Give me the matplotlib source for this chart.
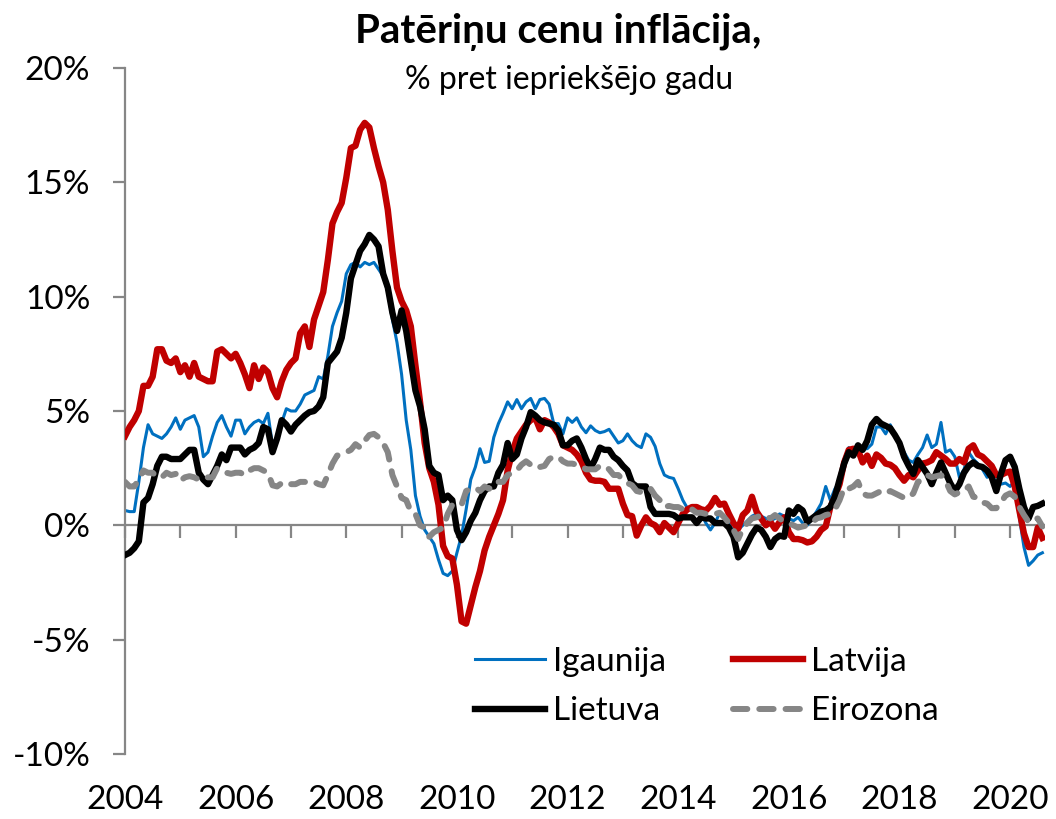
import numpy as np
import matplotlib
matplotlib.use("Agg")
import matplotlib.pyplot as plt

plt.rcParams['font.family'] = ['Lato', 'DejaVu Sans']

# monthly y/y HICP, Jan 2004 .. Aug 2020
igaunija = [
    0.65, 0.6, 0.6, 1.9, 3.4, 4.4, 4.0, 3.9, 3.8, 4.0, 4.3, 4.7,        # 2004
    4.2, 4.6, 4.7, 4.8, 4.3, 3.0, 3.2, 3.9, 4.5, 4.8, 4.3, 3.9,         # 2005
    4.6, 4.6, 4.0, 4.3, 4.5, 4.6, 4.45, 4.9, 3.5, 3.9, 4.5, 5.1,        # 2006
    5.0, 5.0, 5.3, 5.7, 5.8, 5.9, 6.5, 6.4, 7.4, 8.7, 9.3, 9.8,         # 2007
    11.0, 11.4, 11.5, 11.3, 11.5, 11.4, 11.5, 11.2, 10.9, 10.2, 9.0, 8.0,  # 2008
    6.6, 4.6, 3.3, 1.3, 0.4, -0.2, -0.5, -0.8, -1.5, -2.1, -2.2, -2.0,  # 2009
    -1.2, -0.45, 0.7, 2.0, 2.55, 3.35, 2.75, 2.8, 3.85, 4.45, 4.9, 5.4,  # 2010
    5.1, 5.5, 5.1, 5.4, 5.55, 5.1, 5.5, 5.55, 5.3, 4.45, 4.45, 4.0,     # 2011
    4.7, 4.5, 4.7, 4.3, 4.05, 4.35, 4.15, 4.05, 4.1, 4.2, 3.9, 3.6,     # 2012
    3.7, 4.0, 3.7, 3.5, 3.4, 4.0, 3.85, 3.45, 2.7, 2.2, 2.1, 2.05,      # 2013
    1.6, 1.1, 0.75, 0.65, 0.55, 0.5, 0.1, -0.2, 0.1, 0.55, 0.3, 0.1,    # 2014
    -0.3, -0.2, 0.0, 0.2, 0.4, 0.5, 0.4, 0.3, 0.2, 0.3, 0.5, 0.4,       # 2015
    0.3, 0.2, 0.35, 0.1, 0.0, 0.3, 0.6, 0.95, 1.7, 1.1, 1.6, 1.9,       # 2016
    2.9, 3.4, 3.1, 3.2, 3.35, 3.35, 3.55, 4.3, 4.3, 4.0, 4.4, 3.95,     # 2017
    3.6, 3.2, 2.85, 2.75, 3.1, 3.4, 3.95, 3.4, 3.55, 4.5, 3.2, 3.3,     # 2018
    3.0, 2.1, 2.45, 3.2, 2.9, 2.7, 2.45, 2.1, 2.3, 1.8, 1.8, 1.85,      # 2019
    1.7, 1.95, 0.35, -0.95, -1.75, -1.55, -1.3, -1.2,                   # 2020
]
latvija = [
    3.9, 4.3, 4.6, 5.0, 6.1, 6.1, 6.5, 7.7, 7.7, 7.2, 7.1, 7.3,
    6.7, 7.0, 6.5, 7.1, 6.5, 6.4, 6.3, 6.3, 7.6, 7.7, 7.5, 7.3,
    7.5, 7.1, 6.6, 6.0, 7.0, 6.4, 6.9, 6.7, 6.0, 5.6, 6.3, 6.8,
    7.1, 7.3, 8.4, 8.7, 7.8, 9.0, 9.6, 10.2, 11.6, 13.2, 13.7, 14.1,
    15.2, 16.5, 16.6, 17.3, 17.6, 17.4, 16.5, 15.7, 15.0, 13.8, 12.0, 10.4,
    9.8, 9.4, 8.7, 7.0, 5.4, 3.6, 2.5, 1.9, 0.9, -0.9, -1.35, -1.45,
    -2.6, -4.2, -4.3, -3.5, -2.7, -2.0, -1.1, -0.5, 0.0, 0.5, 1.1, 2.4,
    3.2, 3.8, 4.1, 4.4, 4.6, 4.7, 4.2, 4.6, 4.5, 4.3, 4.0, 3.5,
    3.4, 3.3, 3.1, 2.8, 2.3, 2.0, 1.95, 1.95, 1.9, 1.6, 1.6, 1.6,
    0.95, 0.45, 0.4, -0.45, 0.0, 0.35, 0.1, 0.0, -0.3, 0.1, -0.1, -0.3,
    0.1, 0.5, 0.7, 0.8, 0.8, 0.7, 0.65, 0.85, 1.2, 0.9, 0.95, 0.5,
    0.1, -0.15, 0.45, 0.65, 1.25, 0.6, 0.3, 0.0, 0.15, -0.15, 0.15, 0.35,
    -0.3, -0.6, -0.6, -0.65, -0.75, -0.7, -0.5, -0.2, -0.05, 0.8, 1.25, 1.8,
    2.75, 3.3, 3.35, 3.3, 2.75, 3.05, 2.6, 3.1, 2.95, 2.7, 2.65, 2.5,
    2.2, 1.95, 2.2, 2.1, 2.4, 2.7, 2.75, 2.85, 3.2, 3.05, 2.9, 2.7,
    2.7, 2.9, 2.75, 3.35, 3.5, 3.1, 3.0, 2.8, 2.6, 2.2, 2.2, 2.3,
    2.35, 1.7, 0.65, -0.35, -0.95, -0.95, -0.1, -0.55,
]
lietuva = [
    -1.3, -1.2, -1.0, -0.7, 1.0, 1.2, 1.8, 2.6, 3.0, 3.0, 2.9, 2.9,
    2.9, 3.1, 3.3, 3.3, 2.3, 2.0, 1.8, 2.2, 2.6, 3.1, 2.85, 3.4,
    3.4, 3.4, 3.1, 3.3, 3.4, 3.6, 4.3, 4.2, 3.2, 3.8, 4.6, 4.4,
    4.1, 4.4, 4.6, 4.8, 4.95, 5.0, 5.2, 5.6, 7.1, 7.35, 7.6, 8.2,
    9.3, 10.8, 11.4, 12.0, 12.3, 12.7, 12.5, 12.2, 11.0, 10.4, 9.3, 8.5,
    9.4, 8.5, 7.2, 5.9, 5.2, 4.2, 2.6, 2.3, 2.2, 1.1, 1.3, 1.1,
    -0.2, -0.65, -0.3, 0.2, 0.55, 1.1, 1.5, 1.7, 1.7, 2.3, 2.65, 3.6,
    2.9, 3.1, 3.8, 4.3, 4.95, 4.8, 4.6, 4.5, 4.45, 4.4, 4.15, 3.5,
    3.5, 3.7, 3.8, 3.4, 2.9, 2.5, 2.9, 3.4, 3.3, 3.3, 3.0, 2.85,
    2.6, 2.4, 1.85, 1.7, 1.7, 1.7, 0.8, 0.5, 0.5, 0.5, 0.5, 0.45,
    0.3, 0.35, 0.35, 0.35, 0.1, 0.35, 0.3, 0.3, 0.1, 0.1, 0.1, -0.1,
    -0.5, -1.4, -1.2, -0.8, -0.4, -0.1, -0.2, -0.5, -0.95, -0.6, -0.45, -0.5,
    0.65, 0.5, 0.8, 0.65, 0.15, 0.3, 0.45, 0.6, 0.65, 0.8, 1.25, 2.0,
    2.7, 3.2, 3.05, 3.5, 3.3, 3.7, 4.4, 4.65, 4.45, 4.35, 4.25, 3.95,
    3.6, 3.0, 2.6, 2.25, 2.85, 2.55, 2.25, 1.8, 2.3, 2.75, 2.3, 1.85,
    1.5, 1.8, 2.3, 2.6, 2.75, 2.6, 2.55, 2.4, 2.1, 1.5, 2.25, 2.85,
    3.0, 2.55, 1.6, 0.8, 0.3, 0.8, 0.85, 0.95,
]
eirozona = [
    1.9, 1.7, 1.7, 2.0, 2.4, 2.3, 2.3, 2.1, 2.1, 2.3, 2.2, 2.25,
    1.95, 2.1, 2.15, 2.1, 2.0, 2.0, 2.1, 2.1, 2.5, 2.4, 2.3, 2.25,
    2.3, 2.3, 2.2, 2.4, 2.5, 2.5, 2.4, 2.3, 1.75, 1.7, 1.85, 1.9,
    1.8, 1.8, 1.9, 1.9, 1.85, 1.9, 1.8, 1.75, 2.2, 2.7, 3.05, 3.1,
    3.2, 3.3, 3.55, 3.4, 3.7, 3.95, 4.0, 3.85, 3.6, 3.2, 2.2, 1.7,
    1.2, 1.1, 0.6, 0.5, 0.0, -0.1, -0.5, -0.3, -0.2, -0.1, 0.5, 0.9,
    0.95, 0.9, 1.5, 1.6, 1.65, 1.5, 1.7, 1.6, 1.85, 1.9, 1.9, 2.2,
    2.3, 2.4, 2.65, 2.8, 2.65, 2.7, 2.55, 2.6, 2.9, 3.0, 3.0, 2.8,
    2.7, 2.7, 2.65, 2.6, 2.45, 2.45, 2.45, 2.6, 2.6, 2.45, 2.2, 2.2,
    2.0, 1.85, 1.75, 1.5, 1.45, 1.6, 1.6, 1.3, 1.1, 0.8, 0.85, 0.8,
    0.8, 0.7, 0.6, 0.7, 0.55, 0.55, 0.5, 0.45, 0.5, 0.55, 0.35, 0.1,
    -0.2, -0.6, -0.15, 0.1, 0.3, 0.35, 0.45, 0.4, 0.3, 0.45, 0.3, 0.15,
    0.1, 0.0, -0.1, -0.05, 0.0, 0.1, 0.3, 0.35, 0.45, 0.5, 0.7, 1.1,
    1.65, 1.6, 1.7, 1.9, 1.4, 1.3, 1.3, 1.4, 1.5, 1.4, 1.5, 1.4,
    1.3, 1.2, 1.2, 1.4, 1.9, 2.0, 2.2, 2.1, 2.15, 2.2, 1.95, 1.5,
    1.35, 1.45, 1.5, 1.7, 1.25, 1.2, 1.0, 0.95, 0.75, 0.75, 1.0, 1.3,
    1.4, 1.25, 0.8, 0.45, 0.15, 0.3, 0.3, -0.05,
]

gadi = list(range(2004, 2021))
gadu_etiketes = [str(g) for g in range(2004, 2021, 2)]
y_ticks = [20, 15, 10, 5, 0, -5, -10]
y_etiketes = ['20%', '15%', '10%', '5%', '0%', '-5%', '-10%']

x = 2004 + np.arange(len(latvija)) / 12.0
gray = '#868686'

fig = plt.figure(figsize=(10.56, 8.19), dpi=100)
ax = fig.add_axes([125/1056, 1 - 754/819, (1044.7 - 125)/1056, (754 - 68)/819])

ax.axhline(0, color=gray, lw=1.6, zorder=1)
ax.plot(x, igaunija, color='#0070C0', lw=2.2, label='Igaunija', zorder=2)
ax.plot(x, latvija, color='#C00000', lw=4.6, label='Latvija', zorder=3,
        solid_joinstyle='round')
ax.plot(x, lietuva, color='black', lw=4.6, label='Lietuva', zorder=4,
        solid_joinstyle='round')
ax.plot(x, eirozona, color=gray, lw=4.3, ls=(0, (2.4, 2.0)), label='Eirozona',
        zorder=5, dash_capstyle='round')

ax.set_xlim(2004, 2004 + 199.5 / 12)
ax.set_ylim(-10, 20)

for s in ['top', 'right', 'bottom']:
    ax.spines[s].set_visible(False)
ax.spines['left'].set_color(gray)
ax.spines['left'].set_linewidth(1.6)

ax.set_yticks(y_ticks)
ax.set_yticklabels(y_etiketes, fontsize=24)
ax.tick_params(axis='y', direction='out', length=9, width=1.6, color=gray, pad=16)

ax.set_xticks([int(g) for g in gadu_etiketes])
ax.set_xticklabels(gadu_etiketes, fontsize=24)
ax.tick_params(axis='x', length=0, pad=22)

# year ticks on the zero line
sec = ax.secondary_xaxis(1/3)
sec.set_xticks(gadi)
sec.tick_params(axis='x', direction='out', length=9, width=1.6, color=gray,
                labelbottom=False)
sec.spines['bottom'].set_visible(False)

h, l = ax.get_legend_handles_labels()
order = [0, 2, 1, 3]
ax.legend([h[i] for i in order], [l[i] for i in order], ncol=2, frameon=False,
          fontsize=24, loc='upper left', bbox_to_anchor=(475/1056, 1 - 647/819),
          bbox_transform=fig.transFigure, handlelength=2.1, handletextpad=0.25,
          columnspacing=2.0, labelspacing=0.58, borderpad=0, borderaxespad=0)

fig.text(558/1056, 1 - 32/819, 'Patēriņu cenu inflācija,', fontsize=29,
         fontweight='bold', ha='center', va='center')
fig.text(569/1056, 1 - 80/819, '% pret iepriekšējo gadu', fontsize=23,
         ha='center', va='center')

fig.savefig('out.png', dpi=100)
